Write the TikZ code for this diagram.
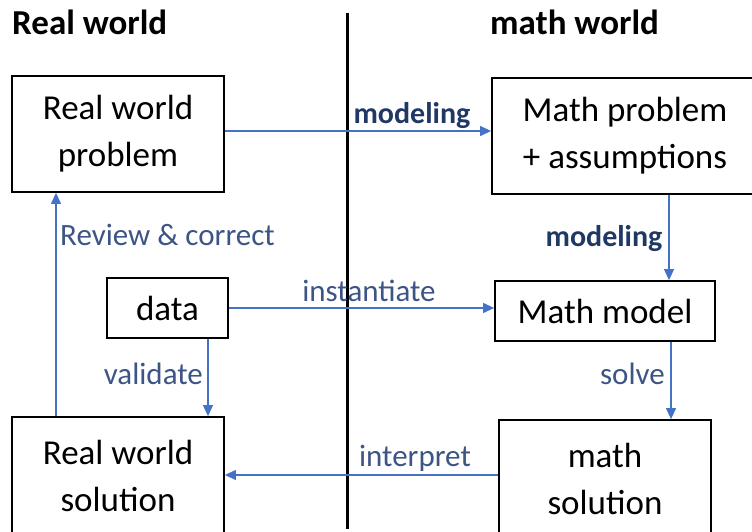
\documentclass[tikz,border=0pt]{standalone}
\usepackage{fontspec}
\setmainfont{Carlito}
\usetikzlibrary{arrows.meta}
\definecolor{arrblue}{HTML}{4472C4}
\definecolor{lblblue}{HTML}{3D5586}
\definecolor{boldblue}{HTML}{203864}
\tikzset{
  box/.style={draw=black, line width=1.8pt, rectangle, align=center, inner sep=0pt,
    font=\fontsize{35}{47}\selectfont},
  arr/.style={draw=arrblue, line width=1.1pt, -{Triangle[length=11pt,width=10pt]}},
  lbl/.style={text=lblblue, inner sep=0pt, font=\fontsize{31}{36}\selectfont},
  blbl/.style={text=boldblue, inner sep=0pt, font=\fontsize{30}{36}\selectfont\bfseries},
  title/.style={inner sep=0pt, font=\fontsize{35}{40}\selectfont\bfseries}
}
\begin{document}
\begin{tikzpicture}[x=1pt,y=-1pt]
\useasboundingbox (0,0) rectangle (752,532);
\clip (0,0) rectangle (752,532);
\node[title, anchor=base west] (t1) at (12,35) {Real world};
\node[title, anchor=base west] (t2) at (490,35) {math world};
\coordinate (ltop) at (347,13);
\coordinate (lbot) at (347,529);
\draw[line width=3pt] (ltop) -- (lbot);

\node[box, minimum width=212pt, minimum height=116pt] (rwp) at (118,134) {Real world\\problem};
\node[box, minimum width=266pt, minimum height=116pt] (mp) at (625,136) {Math problem\\+ assumptions};
\node[box, minimum width=121pt, minimum height=60pt] (data) at (167.5,308) {data};
\node[box, minimum width=220pt, minimum height=60pt] (mm) at (605,311) {Math model};
\node[box, minimum width=212pt, minimum height=118pt] (rws) at (118,476) {Real world\\solution};
\node[box, minimum width=212pt, minimum height=118pt] (ms) at (605,479) {math\\solution};

\draw[arr] ([yshift=3pt]rwp.east) -- ([yshift=3pt]rwp.east -| mp.west);
\draw[arr] ([xshift=44pt]mp.south) -- ([xshift=44pt]mp.south |- mm.north);
\draw[arr] (data.east) -- (data.east -| mm.west);
\draw[arr] ([xshift=40.5pt]data.south) -- ([xshift=40.5pt]data.south |- rws.north);
\draw[arr] ([xshift=66pt]mm.south) -- ([xshift=66pt]mm.south |- ms.north);
\draw[arr] ([yshift=4pt]ms.west) -- ([yshift=4pt]ms.west -| rws.east);
\draw[arr] ([xshift=-62pt]rws.north) -- ([xshift=-62pt]rws.north |- rwp.south);

\node[blbl, anchor=base] (l1) at (412,124) {modeling};
\node[blbl, anchor=base] (l2) at (604,246) {modeling};
\node[lbl, anchor=base west] (l3) at (60,245) {Review \& correct};
\node[lbl, anchor=base] (l4) at (369,301) {instantiate};
\node[lbl, anchor=base east] (l5) at (203,384) {validate};
\node[lbl, anchor=base east] (l6) at (665,384) {solve};
\node[lbl, anchor=base] (l7) at (415,466) {interpret};
\end{tikzpicture}
\end{document}
